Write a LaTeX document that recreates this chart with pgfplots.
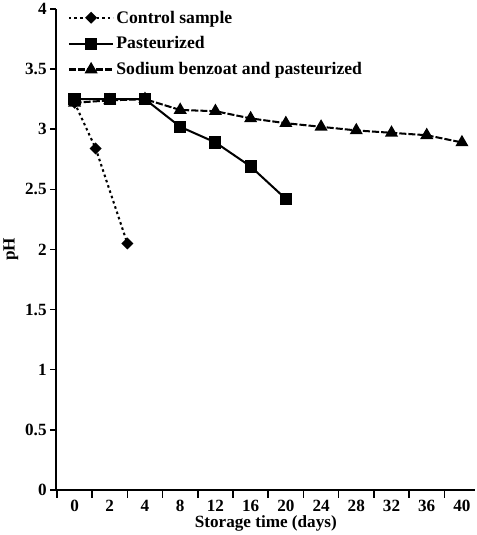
\documentclass[border=0pt]{standalone}
\usepackage{fontspec}
\setmainfont{Liberation Serif}
\usepackage{pgfplots}
\pgfplotsset{compat=1.18}
\begin{document}
\begin{tikzpicture}
\begin{axis}[
    scale only axis,
    width=414bp, height=475bp,
    xmin=-0.52, xmax=11.38,
    ymin=0, ymax=4,
    axis x line*=bottom, axis y line*=left,
    axis line style={line width=2bp},
    xtick={0,...,11},
    xticklabels={0,2,4,8,12,16,20,24,28,32,36,40},
    major x tick style={draw=none},
    minor xtick={-0.5,0.5,...,10.5},
    ytick={0,0.5,...,4},
    tick align=outside,
    tick style={line width=1.5bp, black},
    major tick length=6bp, minor tick length=8bp,
    ticklabel style={font=\bfseries\fontsize{17}{19}\selectfont},
    xticklabel style={yshift=-1bp},
    /pgf/number format/assume math mode=true,
    xlabel={Storage time (days)},
    ylabel={pH},
    label style={font=\bfseries\fontsize{17}{19}\selectfont},
    xlabel style={yshift=3bp},
    legend style={
        at={(0.02,1.005)}, anchor=north west,
        draw=none, fill=none,
        font=\bfseries\fontsize{17.5}{19}\selectfont,
        row sep=8bp,
    },
    legend cell align=left,
    legend image code/.code={
        \draw[mark repeat=2, mark phase=2] plot coordinates {(0bp,0bp) (22bp,0bp) (44bp,0bp)};
    },
]

% Control sample
\addplot[black, line width=2bp, dash pattern=on 2.5bp off 3bp,
    mark=square*, mark size=3.2bp, mark options={solid, rotate=45}]
    coordinates {(0,3.22) (0.6,2.84) (1.5,2.05)};
\addlegendentry{Control sample}

% Pasteurized
\addplot[black, line width=2bp, mark=square*, mark size=5bp, mark options={solid}]
    coordinates {(0,3.25) (1,3.25) (2,3.25) (3,3.02) (4,2.89) (5,2.69) (6,2.42)};
\addlegendentry{Pasteurized}

% Sodium benzoat and pasteurized
\addplot[black, line width=2bp, dash pattern=on 7bp off 2bp,
    mark=triangle*, mark size=5.5bp, mark options={solid}]
    coordinates {(0,3.22) (1,3.24) (2,3.25) (3,3.16) (4,3.15) (5,3.09)
                 (6,3.05) (7,3.02) (8,2.99) (9,2.97) (10,2.95) (11,2.89)};
\addlegendentry{Sodium benzoat and pasteurized}

\end{axis}
\end{tikzpicture}
\end{document}
